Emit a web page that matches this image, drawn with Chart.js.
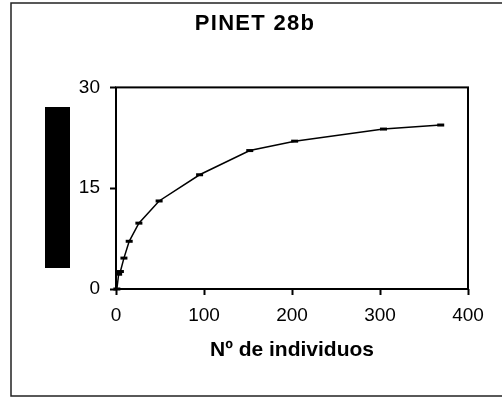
<!DOCTYPE html>
<html>
<head>
<meta charset="utf-8">
<script src="https://cdn.jsdelivr.net/npm/chart.js@4.4.1/dist/chart.umd.min.js"></script>
<style>
  html, body { margin: 0; padding: 0; background: #fff; }
  #wrap { width: 502px; height: 398px; }
</style>
</head>
<body>
<div id="wrap"><canvas id="curve"></canvas></div>
<script>
// Data
var individuos = [1, 3, 5, 9, 15, 26, 49, 95, 152, 203, 304, 369];
var especies = [0, 2.2, 2.6, 4.6, 7.1, 9.8, 13.1, 17.0, 20.6, 22.0, 23.8, 24.4];
var xTicks = [0, 100, 200, 300, 400];
var yTicks = [0, 15, 30];

var points = individuos.map(function (v, i) {
    return {x: v, y: especies[i]};
});

// Frames and the black box
var frames = {
    id: 'frames',
    afterDraw: function (chart) {
        var c = chart.ctx, a = chart.chartArea;
        c.save();
        c.strokeStyle = '#000';
        c.lineWidth = 2;
        c.strokeRect(a.left, a.top, a.right - a.left, a.bottom - a.top);
        c.strokeStyle = '#222';
        c.lineWidth = 1.5;
        c.strokeRect(11, 3, 520, 393);
        c.fillStyle = '#000';
        c.fillRect(45, 107, 25, 161);
        c.restore();
    }
};

Chart.defaults.font.family = "'Liberation Sans', Arial, sans-serif";
Chart.defaults.color = "#000";

var ctx = document.getElementById("curve").getContext("2d");
var myChart = new Chart(ctx, {
    type: "scatter",
    data: {
        datasets: [{
            label: "PINET 28b",
            data: points,
            showLine: true,
            clip: false,
            borderColor: "#000",
            borderWidth: 1.5,
            backgroundColor: "#000",
            pointStyle: "line",
            pointRadius: 3.5,
            pointBorderWidth: 3,
            pointBorderColor: "#000",
            tension: 0
        }]
    },
    options: {
        responsive: true,
        maintainAspectRatio: false,
        animation: false,
        layout: {padding: {left: 42, right: 34, top: 0, bottom: 0}},
        plugins: {
            legend: {display: false},
            tooltip: {enabled: false},
            title: {
                display: true,
                text: "PINET 28b",
                color: "#000",
                font: {size: 22, weight: "bold"},
                padding: {top: 11, bottom: 50}
            }
        },
        scales: {
            x: {
                type: "linear",
                min: 0,
                max: 400,
                afterBuildTicks: function (s) {
                    s.ticks = xTicks.map(function (v) { return {value: v}; });
                },
                afterFit: function (s) { s.height = 109; },
                grid: {drawOnChartArea: false, tickLength: 6, tickWidth: 2, tickColor: "#000"},
                border: {display: false},
                ticks: {font: {size: 19}, padding: 9, maxRotation: 0},
                title: {
                    display: true,
                    text: "Nº de individuos",
                    font: {size: 21, weight: "bold"},
                    padding: {top: 0, bottom: 35}
                }
            },
            y: {
                min: 0,
                max: 30,
                afterBuildTicks: function (s) {
                    s.ticks = yTicks.map(function (v) { return {value: v}; });
                },
                afterFit: function (s) { s.width = 74; },
                grid: {drawOnChartArea: false, tickLength: 6, tickWidth: 2, tickColor: "#000"},
                border: {display: false},
                ticks: {font: {size: 19}, padding: 10}
            }
        }
    },
    plugins: [frames]
});

// a little letter spacing on the title, as in the original
var tb = myChart.titleBlock;
if (tb) {
    var drawTitle = tb.draw;
    tb.draw = function () {
        myChart.ctx.save();
        myChart.ctx.letterSpacing = "1.3px";
        drawTitle.apply(this, arguments);
        myChart.ctx.restore();
    };
    myChart.draw();
}
</script>
</body>
</html>
